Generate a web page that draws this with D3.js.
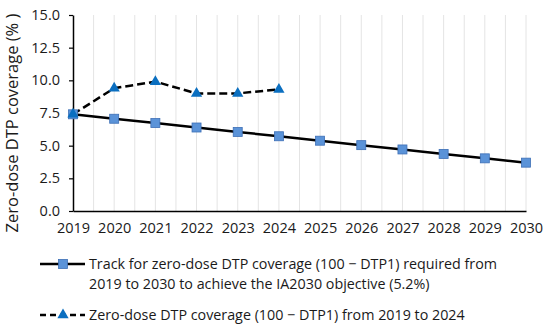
<!DOCTYPE html>
<meta charset="utf-8">
<style>
body { margin: 0; background: #fff; }
text { font-family: "Open Sans", sans-serif; fill: #1a1a1a; }
.grid line { stroke: #e4e4e4; stroke-width: 1; }
</style>
<body>
<script src="https://d3js.org/d3.v7.min.js"></script>
<script>

// data
var years = [2019, 2020, 2021, 2022, 2023, 2024, 2025, 2026, 2027, 2028, 2029, 2030];
var trackValues = [7.4, 7.06, 6.73, 6.39, 6.05, 5.72, 5.38, 5.04, 4.71, 4.37, 4.03, 3.7];
var actualYears = [2019, 2020, 2021, 2022, 2023, 2024];
var actualValues = [7.4, 9.4, 9.9, 9.0, 9.0, 9.3];
var yTicks = [0, 2.5, 5, 7.5, 10, 12.5, 15];
var legendTrack = ["Track for zero-dose DTP coverage (100 \u2212 DTP1) required from",
                   "2019 to 2030 to achieve the IA2030 objective (5.2%)"];
var legendActual = "Zero-dose DTP coverage (100 \u2212 DTP1) from 2019 to 2024";

var W = 550, H = 326;
var margin = {top: 15, right: 24, bottom: 115, left: 73},
    width = W - margin.left - margin.right,
    height = H - margin.top - margin.bottom;

var svg = d3.select("body").append("svg")
    .attr("width", W)
    .attr("height", H);

var g = svg.append("g")
    .attr("transform", "translate(" + margin.left + "," + margin.top + ")");

var x = d3.scaleLinear().domain([2019, 2030]).range([0, width]);
var y = d3.scaleLinear().domain([0, 15]).range([height, 0]);

// vertical gridlines every half year
var gridVals = d3.range(2019.5, 2030.01, 0.5);
g.append("g").attr("class", "grid")
  .selectAll("line").data(gridVals).enter().append("line")
    .attr("x1", d => x(d)).attr("x2", d => x(d))
    .attr("y1", 0).attr("y2", height);

// axes
var yAxis = g.append("g")
    .call(d3.axisLeft(y).tickValues(yTicks).tickSizeInner(4).tickSizeOuter(0).tickPadding(9)
      .tickFormat(d3.format(".1f")));
yAxis.select(".domain").attr("stroke", "#000").attr("stroke-width", 1.5);
yAxis.selectAll(".tick line").attr("stroke", "#000").attr("stroke-width", 1.2);
yAxis.selectAll("text").style("font-size", "14.5px");

var xAxis = g.append("g")
    .attr("transform", "translate(0," + height + ")")
    .call(d3.axisBottom(x).tickValues(years).tickSize(0).tickPadding(12)
      .tickFormat(d3.format("d")));
xAxis.select(".domain").attr("stroke", "#000").attr("stroke-width", 1.5);
xAxis.selectAll("text").style("font-size", "14.5px");

// y axis title
svg.append("text")
    .attr("transform", "translate(18," + (margin.top + 108) + ") rotate(-90)")
    .attr("text-anchor", "middle")
    .style("font-size", "16.5px")
    .text("Zero-dose DTP coverage (% )");

var line = d3.line().x(d => x(d[0])).y(d => y(d[1]));

var trackData = years.map((yr, i) => [yr, trackValues[i]]);
var actualData = actualYears.map((yr, i) => [yr, actualValues[i]]);

g.append("path").datum(trackData)
    .attr("fill", "none").attr("stroke", "#000").attr("stroke-width", 2.5)
    .attr("d", line);

g.append("path").datum(actualData)
    .attr("fill", "none").attr("stroke", "#000").attr("stroke-width", 2.5)
    .attr("stroke-dasharray", "8,4")
    .attr("d", line);

var sq = 9;
g.selectAll(".sq").data(trackData).enter().append("rect")
    .attr("class", "sq")
    .attr("x", d => x(d[0]) - sq / 2).attr("y", d => y(d[1]) - sq / 2)
    .attr("width", sq).attr("height", sq)
    .attr("fill", "#5b93d8").attr("stroke", "#3d6fb6").attr("stroke-width", 0.8);

var tri = d3.symbol().type(d3.symbolTriangle).size(55);
g.selectAll(".tri").data(actualData).enter().append("path")
    .attr("class", "tri")
    .attr("transform", d => "translate(" + x(d[0]) + "," + y(d[1]) + ")")
    .attr("d", tri)
    .attr("fill", "#0b6fc0");

// legend
var leg = svg.append("g");
leg.append("line").attr("x1", 40).attr("x2", 85).attr("y1", 264).attr("y2", 264)
    .attr("stroke", "#000").attr("stroke-width", 2.5);
leg.append("rect").attr("x", 63 - sq / 2).attr("y", 264 - sq / 2)
    .attr("width", sq).attr("height", sq)
    .attr("fill", "#5b93d8").attr("stroke", "#3d6fb6").attr("stroke-width", 0.8);
leg.selectAll(".lt").data(legendTrack).enter().append("text")
    .attr("x", 89).attr("y", (d, i) => 269 + i * 20)
    .style("font-size", "14.3px")
    .text(d => d);

leg.append("line").attr("x1", 40).attr("x2", 85).attr("y1", 315).attr("y2", 315)
    .attr("stroke", "#000").attr("stroke-width", 2.5).attr("stroke-dasharray", "6,4");
leg.append("path").attr("transform", "translate(63,315)").attr("d", tri).attr("fill", "#0b6fc0");
leg.append("text").attr("x", 89).attr("y", 320)
    .style("font-size", "14.3px")
    .text(legendActual);

</script>
</body>
